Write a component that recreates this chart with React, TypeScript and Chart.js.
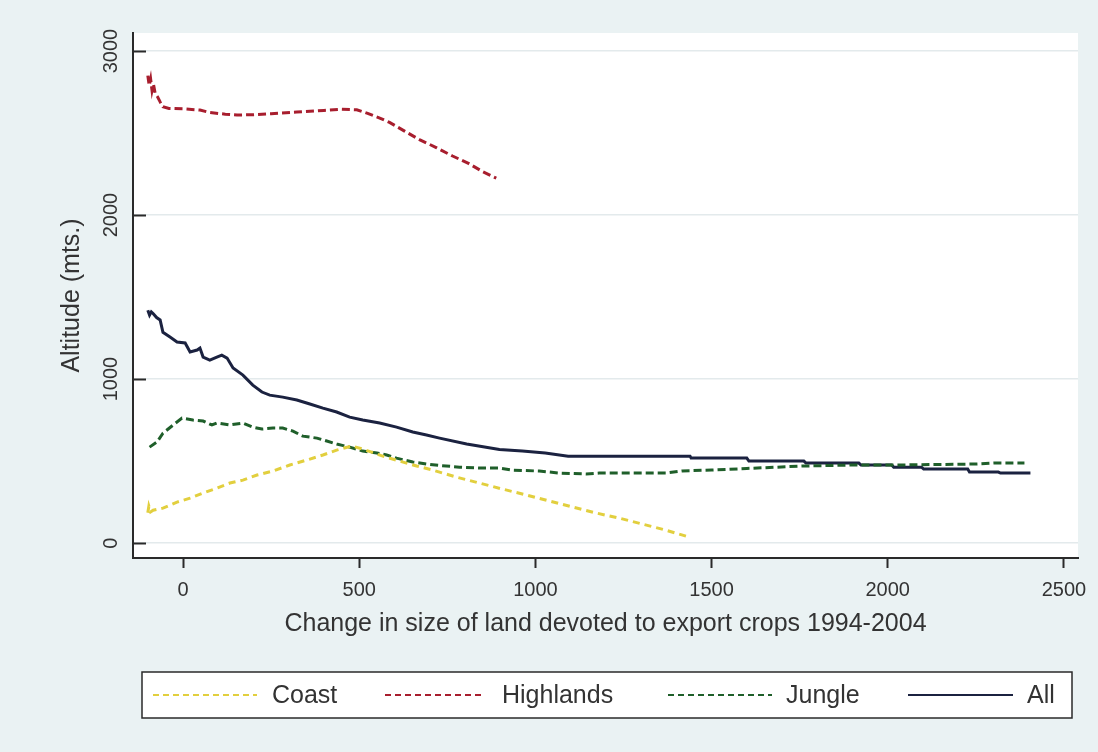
import React, { useEffect, useRef } from "react";
import { Chart, registerables } from "chart.js";

Chart.register(...registerables);

// Altitude (m) against change in land devoted to export crops, by region
const coastX = [-100, -97, -92, -85, -57, -17, 20, 57, 96, 133, 170, 210, 255, 303, 351, 397, 436, 479, 510, 567, 606, 663, 708, 776, 841, 907, 975, 1040, 1105, 1173, 1238, 1303, 1370, 1436];
const coastY = [185, 225, 190, 200, 213, 250, 274, 305, 335, 366, 384, 415, 439, 476, 506, 537, 567, 592, 573, 530, 505, 470, 445, 402, 366, 329, 293, 256, 220, 183, 152, 116, 79, 37];

const highlandsX = [-100, -96, -92, -88, -84, -79, -72, -65, -57, -40, 0, 48, 76, 120, 153, 200, 250, 323, 400, 450, 493, 524, 560, 586, 630, 671, 720, 765, 810, 850, 889];
const highlandsY = [2850, 2790, 2830, 2760, 2800, 2740, 2720, 2690, 2660, 2650, 2648, 2640, 2625, 2615, 2610, 2612, 2618, 2628, 2638, 2645, 2642, 2620, 2590, 2565, 2510, 2460, 2410, 2360, 2315, 2265, 2225];

const jungleX = [-95, -74, -57, -28, -3, 28, 57, 82, 96, 133, 170, 198, 224, 255, 283, 312, 340, 380, 408, 436, 473, 510, 550, 578, 606, 652, 691, 735, 785, 841, 898, 935, 1011, 1068, 1144, 1181, 1275, 1370, 1416, 1500, 1600, 1762, 1909, 2031, 2249, 2303, 2388];
const jungleY = [585, 616, 670, 720, 762, 750, 744, 720, 732, 720, 732, 707, 695, 701, 701, 683, 652, 640, 622, 604, 585, 561, 549, 537, 518, 494, 482, 472, 463, 457, 457, 445, 439, 427, 421, 427, 427, 427, 440, 445, 455, 470, 476, 476, 482, 488, 488];

const allX = [-100, -95, -90, -85, -75, -65, -57, -37, -17, 6, 20, 40, 48, 57, 76, 96, 110, 125, 142, 170, 198, 224, 246, 283, 323, 360, 397, 436, 473, 510, 558, 606, 652, 691, 728, 805, 898, 963, 1028, 1093, 1439, 1442, 1600, 1606, 1762, 1768, 1918, 1924, 2011, 2017, 2096, 2102, 2227, 2232, 2314, 2320, 2405];
const allY = [1420, 1390, 1410, 1400, 1375, 1360, 1285, 1256, 1226, 1220, 1165, 1177, 1189, 1134, 1116, 1134, 1146, 1128, 1067, 1024, 963, 921, 902, 890, 872, 848, 823, 799, 768, 750, 732, 707, 677, 659, 640, 604, 570, 561, 549, 530, 530, 518, 518, 500, 500, 488, 488, 476, 476, 463, 463, 451, 451, 433, 433, 427, 427];

const xTicks = [0, 500, 1000, 1500, 2000, 2500];
const yTicks = [0, 1000, 2000, 3000];
const seriesNames = ["Coast", "Highlands", "Jungle", "All"];

const xTitle = "Change in size of land devoted to export crops 1994-2004";
const yTitle = "Altitude (mts.)";

const FONT = '"Liberation Sans", Arial, sans-serif';
const INK = "#2a2a2a";
const TEXT = "#333333";

const pts = (xs: number[], ys: number[]) => xs.map((x, i) => ({ x, y: ys[i] }));

// legend layout: sample start/end and label start per entry
const legendBox = { left: 142, top: 672, right: 1072, bottom: 718 };
const legendSlots = [
  { s0: 153, s1: 257, t: 272 },
  { s0: 385, s1: 482, t: 502 },
  { s0: 668, s1: 772, t: 786 },
  { s0: 908, s1: 1013, t: 1027 },
];

const decorations = {
  id: "decorations",
  beforeDraw(chart: any) {
    const { ctx, chartArea: a } = chart;
    ctx.save();
    ctx.fillStyle = "#eaf2f3";
    ctx.fillRect(0, 0, chart.width, chart.height);
    ctx.fillStyle = "#ffffff";
    ctx.fillRect(a.left, a.top, a.right - a.left, a.bottom - a.top);
    ctx.restore();
  },
  afterDraw(chart: any) {
    const { ctx, chartArea: a } = chart;
    const ys = chart.scales.y;
    ctx.save();
    // inward tick marks on the y axis
    ctx.strokeStyle = INK;
    ctx.lineWidth = 2;
    for (const v of yTicks) {
      const p = Math.round(ys.getPixelForValue(v)) + 0.5;
      ctx.beginPath();
      ctx.moveTo(a.left, p);
      ctx.lineTo(a.left + 13, p);
      ctx.stroke();
    }
    // vertical y tick labels
    ctx.fillStyle = TEXT;
    ctx.font = `20px ${FONT}`;
    ctx.textAlign = "center";
    ctx.textBaseline = "middle";
    for (const v of yTicks) {
      const p = ys.getPixelForValue(v);
      ctx.save();
      ctx.translate(111, p);
      ctx.rotate(-Math.PI / 2);
      ctx.fillText(String(v), 0, 0);
      ctx.restore();
    }
    // axis titles
    ctx.font = `25px ${FONT}`;
    ctx.save();
    ctx.translate(72, (a.top + a.bottom) / 2);
    ctx.rotate(-Math.PI / 2);
    ctx.fillText(yTitle, 0, 0);
    ctx.restore();
    ctx.fillText(xTitle, (a.left + a.right) / 2, 624);

    // legend
    const lb = legendBox;
    ctx.fillStyle = "#ffffff";
    ctx.fillRect(lb.left, lb.top, lb.right - lb.left, lb.bottom - lb.top);
    ctx.strokeStyle = INK;
    ctx.lineWidth = 1.5;
    ctx.strokeRect(lb.left, lb.top, lb.right - lb.left, lb.bottom - lb.top);
    const cy = (lb.top + lb.bottom) / 2;
    chart.data.datasets.forEach((ds: any, i: number) => {
      const slot = legendSlots[i];
      ctx.save();
      ctx.strokeStyle = ds.borderColor;
      ctx.lineWidth = 2;
      ctx.setLineDash(ds.borderDash && ds.borderDash.length ? [6, 4] : []);
      ctx.beginPath();
      ctx.moveTo(slot.s0, cy);
      ctx.lineTo(slot.s1, cy);
      ctx.stroke();
      ctx.restore();
      ctx.fillStyle = TEXT;
      ctx.font = `25px ${FONT}`;
      ctx.textAlign = "left";
      ctx.textBaseline = "middle";
      ctx.fillText(ds.label, slot.t, cy + 1);
    });
    ctx.restore();
  },
};

export default function App() {
  const canvasRef = useRef<HTMLCanvasElement | null>(null);

  useEffect(() => {
    const canvas = canvasRef.current;
    if (!canvas) return;
    const line = (label: string, data: any[], color: string, dash: number[]) => ({
      label,
      data,
      borderColor: color,
      backgroundColor: color,
      borderWidth: 3,
      borderDash: dash,
      borderCapStyle: "butt" as const,
      pointRadius: 0,
      tension: 0,
      fill: false,
    });
    const chart = new Chart(canvas, {
      type: "line",
      data: {
        datasets: [
          line(seriesNames[0], pts(coastX, coastY), "#e2cf3e", [7, 5]),
          line(seriesNames[1], pts(highlandsX, highlandsY), "#a81e2e", [8, 4]),
          line(seriesNames[2], pts(jungleX, jungleY), "#1f5f2a", [8, 4]),
          line(seriesNames[3], pts(allX, allY), "#1b2240", []),
        ],
      },
      options: {
        responsive: false,
        animation: false,
        devicePixelRatio: 1,
        layout: { padding: { top: 33, right: 20, bottom: 0, left: 0 } },
        plugins: {
          legend: { display: false },
          tooltip: { enabled: false },
        },
        scales: {
          x: {
            type: "linear",
            min: -142,
            max: 2540,
            afterBuildTicks: (s: any) => {
              s.ticks = xTicks.map((v) => ({ value: v }));
            },
            afterFit: (s: any) => {
              s.height = 194;
            },
            border: { display: true, color: INK, width: 2 },
            grid: {
              drawOnChartArea: false,
              drawTicks: true,
              tickLength: 10,
              tickWidth: 2,
              tickColor: INK,
            },
            ticks: {
              autoSkip: false,
              maxRotation: 0,
              padding: 10,
              color: TEXT,
              font: { family: FONT, size: 20 },
              callback: (v: any) => String(v),
            },
          },
          y: {
            type: "linear",
            min: -91,
            max: 3110,
            afterBuildTicks: (s: any) => {
              s.ticks = yTicks.map((v) => ({ value: v }));
            },
            afterFit: (s: any) => {
              s.width = 133;
            },
            border: { display: true, color: INK, width: 2 },
            grid: {
              drawTicks: false,
              color: "#e3eaec",
              lineWidth: 1.5,
            },
            ticks: { display: false },
          },
        },
      },
      plugins: [decorations],
    });
    return () => chart.destroy();
  }, []);

  return (
    <div style={{ position: "fixed", left: 0, top: 0, width: 1098, height: 752, background: "#eaf2f3" }}>
      <canvas ref={canvasRef} width={1098} height={752} style={{ display: "block" }} />
    </div>
  );
}
